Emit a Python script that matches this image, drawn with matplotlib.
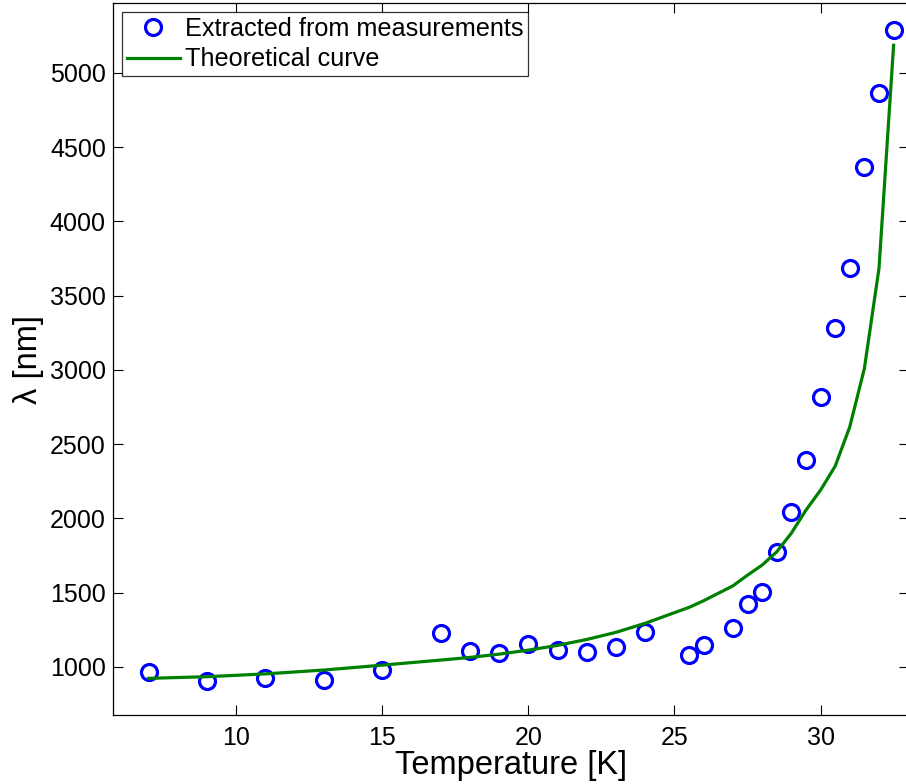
import numpy as np
import matplotlib
matplotlib.use('Agg')
import matplotlib.pyplot as plt

plt.rcParams['font.family'] = ['Liberation Sans', 'DejaVu Sans']

# measured penetration depth vs temperature
T_meas = [7, 9, 11, 13, 15, 17, 18, 19, 20, 21, 22, 23, 24, 25.5, 26,
          27, 27.5, 28, 28.5, 29, 29.5, 30, 30.5, 31, 31.5, 32, 32.5]
lam_meas = [962, 902, 922, 912, 978, 1225, 1108, 1092, 1153, 1110, 1101,
            1133, 1232, 1081, 1146, 1263, 1424, 1505, 1770, 2040, 2395,
            2814, 3283, 3683, 4367, 4863, 5290]

# theoretical curve
T_theo = [7, 9, 11, 13, 15, 17, 18, 19, 20, 21, 22, 23, 24, 25.5, 26,
          27, 27.5, 28, 28.5, 29, 29.5, 30, 30.5, 31, 31.5, 32, 32.5]
lam_theo = [922, 933, 952, 978, 1011, 1045, 1063, 1085, 1112, 1144, 1184,
            1232, 1293, 1400, 1445, 1545, 1617, 1685, 1774, 1900, 2055,
            2190, 2351, 2616, 3009, 3683, 5186]

xticks = [10, 15, 20, 25, 30]
yticks = [1000, 1500, 2000, 2500, 3000, 3500, 4000, 4500, 5000]

fig = plt.figure(figsize=(9.06, 7.84), dpi=100)
ax = fig.add_axes([0.1244, 0.088, 0.879, 0.908])

ax.plot(T_meas, lam_meas, 'o', markerfacecolor='none', markeredgecolor='b',
        markersize=11.5, markeredgewidth=2.3, label='Extracted from measurements')
ax.plot(T_theo, lam_theo, '-', color=(0, 0.5, 0), linewidth=2.3,
        label='Theoretical curve')

ax.set_xlim(5.77, 33.03)
ax.set_ylim(675, 5470)
ax.set_xticks(xticks)
ax.set_yticks(yticks)
ax.tick_params(direction='in', length=7, width=0.8, top=True, right=True,
               labelsize=18, pad=5)
ax.tick_params(axis='x', pad=8)
for s in ax.spines.values():
    s.set_linewidth(0.9)

ax.set_xlabel('Temperature [K]', fontsize=23.5, labelpad=0)
ax.set_ylabel('λ [nm]', fontsize=23.5, labelpad=4)

leg = ax.legend(loc='upper left', fontsize=18.2, frameon=True, fancybox=False,
                edgecolor='black', borderaxespad=0.35, handlelength=2.1,
                handletextpad=0.2, borderpad=0.2, labelspacing=0.25)
leg.get_frame().set_linewidth(0.9)

plt.savefig('out.png', dpi=100)
